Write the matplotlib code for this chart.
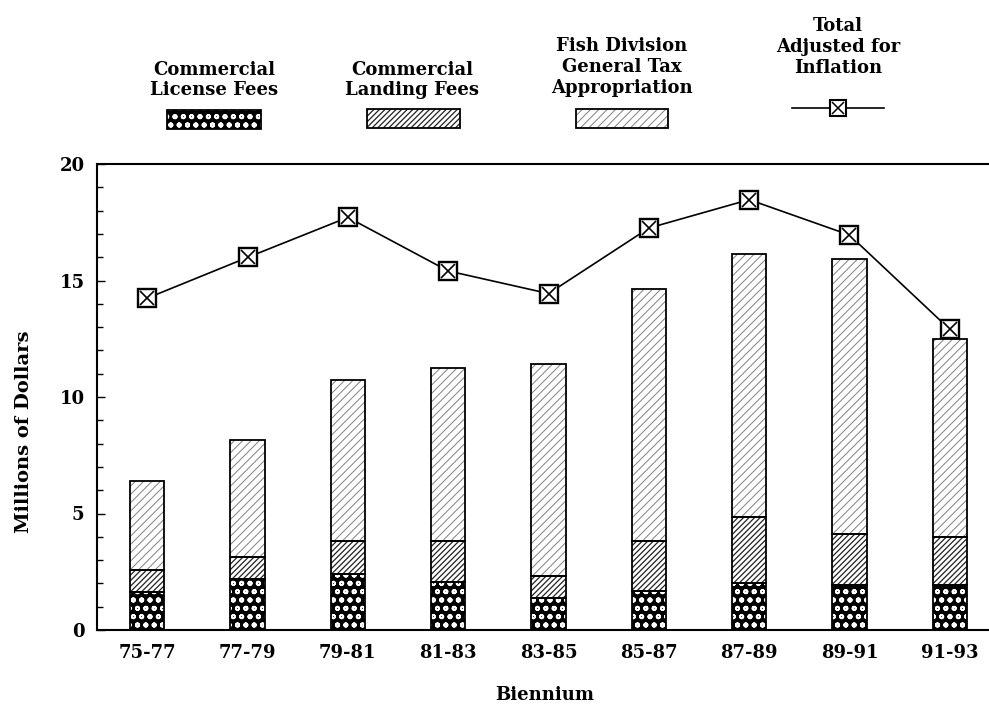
import matplotlib
matplotlib.use("Agg")
import matplotlib.pyplot as plt
from matplotlib.patches import Rectangle
from matplotlib.lines import Line2D
import numpy as np

categories = ["75-77", "77-79", "79-81", "81-83", "83-85", "85-87", "87-89", "89-91", "91-93"]
license_fees = [1.65, 2.19, 2.41, 2.08, 1.36, 1.69, 2.01, 1.91, 1.91]
landing_fees = [0.93, 0.93, 1.39, 1.72, 0.96, 2.11, 2.82, 2.22, 2.10]
general_tax = [3.80, 5.05, 6.95, 7.45, 9.08, 10.82, 11.30, 11.81, 8.49]
total_adjusted = [14.24, 15.99, 17.71, 15.41, 14.44, 17.25, 18.47, 16.95, 12.90]

FONT = ["DejaVu Serif"]
plt.rcParams['font.family'] = FONT
plt.rcParams['font.weight'] = 'bold'

W, H = 989, 704
fig = plt.figure(figsize=(W / 100, H / 100), dpi=100)
ax = fig.add_axes([97 / W, (H - 630) / H, (1000 - 97) / W, (630 - 164) / H])

x = np.arange(len(categories))
bw = 0.34
lic = np.array(license_fees)
lan = np.array(landing_fees)
gen = np.array(general_tax)

STYLES = {
    'lic': dict(face='black', hcolor='white', hatch='oo', hlw=1.3),
    'lan': dict(face='white', hcolor='#222222', hatch='//////', hlw=0.9),
    'gen': dict(face='white', hcolor='#808080', hatch='////', hlw=0.7),
}

def hatched(xs, h, bottom, st):
    with plt.rc_context({'hatch.linewidth': st['hlw']}):
        bars = ax.bar(xs, h, bw, bottom=bottom, color=st['face'], edgecolor=st['hcolor'],
                      hatch=st['hatch'], linewidth=0, zorder=2)
    for b in bars:
        if hasattr(b, 'set_hatch_linewidth'):
            b.set_hatch_linewidth(st['hlw'])
    ax.bar(xs, h, bw, bottom=bottom, fill=False, edgecolor='black', linewidth=1.3, zorder=3)
    return bars

hatched(x, lic, 0, STYLES['lic'])
hatched(x, lan, lic, STYLES['lan'])
hatched(x, gen, lic + lan, STYLES['gen'])

ax.plot(x, total_adjusted, color='black', lw=1.2, zorder=4)
ax.plot(x, total_adjusted, ls='none', marker='s', ms=13.5, mfc='white', mec='black', mew=1.7, zorder=5)
ax.plot(x, total_adjusted, ls='none', marker='x', ms=10, mec='black', mew=1.2, zorder=6)

ax.set_xlim(-0.5, 8.5)
ax.set_ylim(0, 20)
ax.set_yticks([0, 5, 10, 15, 20])
ax.set_yticks(np.arange(0, 21, 1), minor=True)
ax.tick_params(axis='y', which='both', direction='in', length=6, width=1, labelsize=13, pad=9)
ax.tick_params(axis='y', which='minor', length=4)
ax.set_xticks(x)
ax.set_xticklabels(categories)
ax.tick_params(axis='x', length=0, labelsize=13, pad=10)
for lab in ax.get_xticklabels() + ax.get_yticklabels():
    lab.set_fontweight('bold')
for s in ['left', 'top', 'bottom']:
    ax.spines[s].set_linewidth(1.5)
ax.spines['right'].set_visible(False)

fig.text(545 / W, 1 - 695 / H, "Biennium", ha='center', va='center', fontsize=13, fontweight='bold')
fig.text(24 / W, 1 - 432 / H, "Millions of Dollars", ha='center', va='center', rotation=90,
         fontsize=14, fontweight='bold')

# legend
def ftext(xc, yc, s):
    fig.text(xc / W, 1 - yc / H, s, ha='center', va='center', fontsize=13,
             fontweight='bold', linespacing=1.2)

def swatch(x0, x1, y0, y1, st):
    with plt.rc_context({'hatch.linewidth': st['hlw']}):
        r = Rectangle((x0 / W, 1 - y1 / H), (x1 - x0) / W, (y1 - y0) / H,
                      transform=fig.transFigure, facecolor=st['face'], edgecolor=st['hcolor'],
                      hatch=st['hatch'], linewidth=0)
    if hasattr(r, 'set_hatch_linewidth'):
        r.set_hatch_linewidth(st['hlw'])
    fig.patches.append(r)
    r2 = Rectangle((x0 / W, 1 - y1 / H), (x1 - x0) / W, (y1 - y0) / H,
                   transform=fig.transFigure, fill=False, edgecolor='black', linewidth=1.3)
    fig.patches.append(r2)

ftext(214, 80, "Commercial\nLicense Fees")
swatch(167, 261, 110, 129, STYLES['lic'])
ftext(412, 80, "Commercial\nLanding Fees")
swatch(367, 460, 109, 128, STYLES['lan'])
ftext(622, 67, "Fish Division\nGeneral Tax\nAppropriation")
swatch(576, 668, 109, 128, STYLES['gen'])
ftext(838, 47, "Total\nAdjusted for\nInflation")
fig.lines.append(Line2D([792 / W, 884 / W], [1 - 108 / H, 1 - 108 / H], transform=fig.transFigure,
                        color='black', lw=1.2))
fig.lines.append(Line2D([838 / W], [1 - 108 / H], transform=fig.transFigure, ls='none',
                        marker='s', ms=11, mfc='white', mec='black', mew=1.5))
fig.lines.append(Line2D([838 / W], [1 - 108 / H], transform=fig.transFigure, ls='none',
                        marker='x', ms=8, mec='black', mew=1.1))

fig.savefig("out.png", dpi=100)
